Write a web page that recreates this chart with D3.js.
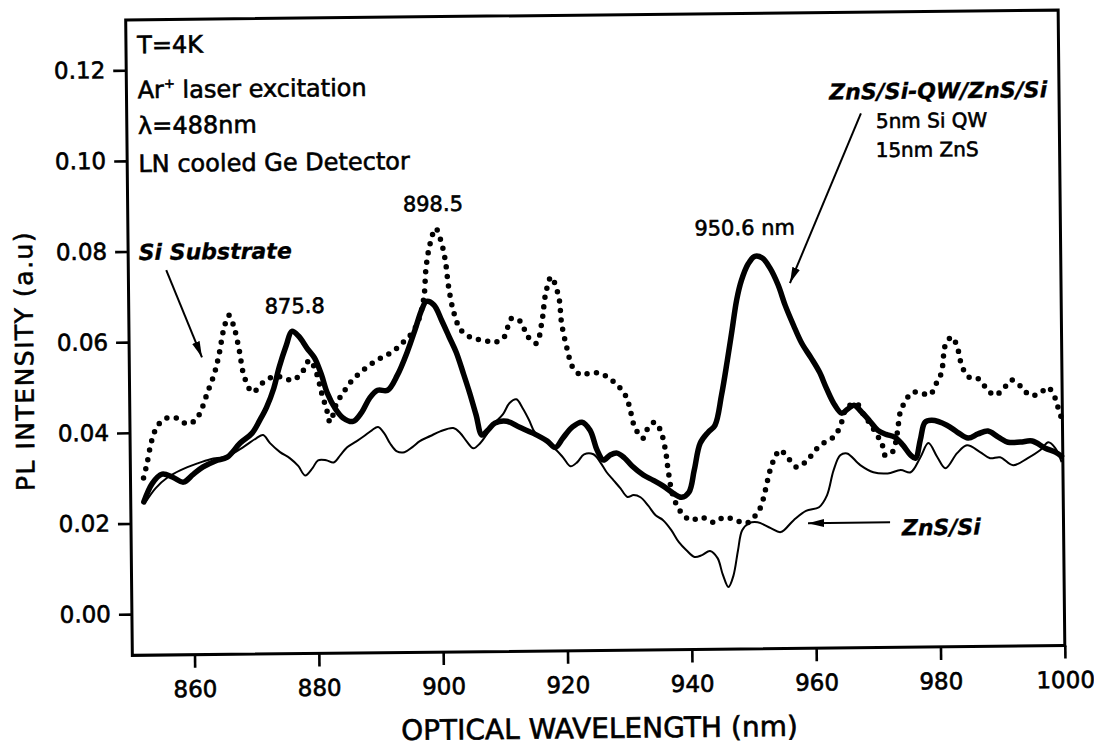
<!DOCTYPE html>
<html>
<head>
<meta charset="utf-8">
<script src="https://d3js.org/d3.v7.min.js"></script>
<style>
  body { margin: 0; background: #fff; }
  svg text { font-family: "DejaVu Sans", sans-serif; fill: #000; stroke: #000; stroke-width: 0.6px; }
</style>
</head>
<body>
<div id="chart"></div>
<script>
// wavelength (nm) and PL intensity (a.u)
var qwWl = [852.1,853.5,855.1,856.8,858.5,860.1,861.7,863.7,865.6,867.7,869.6,870.9,872.0,873.2,874.1,875.3,
            876.2,877.3,878.6,879.8,880.9,881.8,883.0,884.3,885.9,887.3,888.6,889.9,891.5,893.1,894.7,896.0,
            897.1,897.9,899.1,900.3,901.5,902.6,903.7,904.7,905.7,906.6,907.6,908.7,910.6,912.7,914.8,917.1,
            918.4,919.6,921.1,922.7,924.0,925.1,926.1,927.2,928.3,929.5,930.7,932.5,934.1,935.7,937.3,938.6,
            939.8,940.7,941.7,943.0,944.1,945.2,946.2,947.0,947.8,948.6,949.7,950.8,952.0,953.2,954.5,955.6,
            956.9,958.2,959.7,961.0,962.1,963.4,964.5,965.5,966.5,967.7,969.0,970.3,971.6,973.0,974.3,975.5,
            976.3,977.1,977.9,979.0,981.4,983.1,984.8,986.4,988.0,989.6,991.2,993.2,995.1,997.2,998.8,999.8];
var qwPl = [0.0247,0.0288,0.0308,0.0301,0.0290,0.0307,0.0323,0.0336,0.0344,0.0375,0.0396,0.0425,0.0453,0.0495,0.0541,0.0590,
            0.0620,0.0609,0.0583,0.0561,0.0523,0.0483,0.0450,0.0428,0.0420,0.0440,0.0471,0.0488,0.0488,0.0521,0.0571,0.0620,
            0.0664,0.0683,0.0675,0.0641,0.0604,0.0570,0.0524,0.0480,0.0431,0.0387,0.0398,0.0413,0.0417,0.0403,0.0390,0.0372,
            0.0358,0.0378,0.0402,0.0413,0.0395,0.0351,0.0329,0.0340,0.0344,0.0333,0.0315,0.0295,0.0283,0.0270,0.0254,0.0245,
            0.0256,0.0305,0.0364,0.0388,0.0403,0.0469,0.0546,0.0612,0.0679,0.0722,0.0758,0.0775,0.0771,0.0749,0.0711,0.0666,
            0.0622,0.0582,0.0549,0.0518,0.0482,0.0445,0.0427,0.0436,0.0444,0.0429,0.0409,0.0388,0.0379,0.0373,0.0355,0.0333,
            0.0326,0.0366,0.0405,0.0409,0.0398,0.0382,0.0369,0.0378,0.0384,0.0371,0.0359,0.0359,0.0361,0.0345,0.0336,0.0327];

var znsWl = [852.4,854.0,856.0,858.0,860.8,862.9,865.6,868.2,870.3,871.4,872.5,874.1,875.7,877.0,878.1,879.3,
             880.2,881.5,882.7,883.8,884.9,886.4,887.6,888.9,889.9,890.9,891.8,892.9,894.1,895.4,896.6,898.3,
             899.9,902.0,903.1,904.1,905.2,906.3,907.4,908.5,910.0,911.1,912.2,913.2,914.2,915.1,916.8,918.4,
             919.6,920.8,921.9,923.0,924.5,925.6,926.6,927.7,928.8,929.9,930.9,932.0,933.2,934.4,935.6,936.9,
             938.1,939.3,940.6,941.8,943.1,944.3,945.1,946.0,946.8,947.6,948.3,949.4,950.8,952.9,954.5,956.6,
             958.6,960.7,962.0,963.1,964.2,965.3,967.4,969.5,971.8,973.9,975.5,977.1,978.4,979.8,981.1,983.0,
             984.6,986.7,988.3,989.9,992.0,994.3,996.4,997.7,998.8,999.8];
var znsPl = [0.0247,0.0277,0.0301,0.0316,0.0331,0.0340,0.0346,0.0366,0.0385,0.0392,0.0374,0.0354,0.0340,0.0323,0.0302,0.0318,
             0.0335,0.0335,0.0330,0.0346,0.0363,0.0376,0.0387,0.0400,0.0407,0.0393,0.0371,0.0353,0.0351,0.0362,0.0375,0.0386,
             0.0396,0.0403,0.0392,0.0374,0.0358,0.0369,0.0389,0.0411,0.0432,0.0457,0.0465,0.0445,0.0419,0.0392,0.0372,0.0354,
             0.0336,0.0316,0.0325,0.0342,0.0342,0.0324,0.0302,0.0284,0.0266,0.0247,0.0251,0.0246,0.0228,0.0206,0.0195,0.0173,
             0.0146,0.0128,0.0113,0.0117,0.0126,0.0110,0.0074,0.0046,0.0070,0.0127,0.0171,0.0186,0.0188,0.0175,0.0166,0.0192,
             0.0212,0.0220,0.0246,0.0301,0.0334,0.0338,0.0312,0.0296,0.0293,0.0300,0.0295,0.0328,0.0359,0.0328,0.0303,0.0336,
             0.0353,0.0338,0.0324,0.0326,0.0308,0.0323,0.0341,0.0358,0.0345,0.0314];

var subWl = [852.1,852.7,853.5,854.5,856.0,857.6,859.2,860.5,861.3,862.5,863.7,864.5,865.3,866.1,866.9,867.7,
             868.5,869.8,871.4,873.0,874.6,876.2,877.8,879.0,880.1,880.9,881.7,882.2,883.3,884.3,885.4,887.0,
             889.1,890.7,892.3,893.9,895.5,896.6,897.5,897.9,898.6,899.5,900.3,901.0,901.5,902.3,903.4,905.2,
             907.1,908.7,910.3,911.6,913.1,914.0,915.5,916.4,917.1,918.0,919.2,919.6,920.5,921.3,922.7,924.0,
             925.6,927.2,928.8,929.9,930.4,931.2,932.5,933.3,934.4,935.3,936.1,936.5,937.2,938.5,940.1,941.7,
             943.8,945.4,947.0,948.9,950.2,951.3,952.1,952.9,953.7,954.5,955.8,957.2,958.9,960.2,961.5,963.1,
             964.2,965.3,966.9,967.9,969.0,970.2,971.0,971.4,972.6,973.4,973.9,974.7,975.9,977.4,978.7,979.8,
             980.6,981.4,982.4,983.2,984.0,985.1,986.4,987.8,989.1,990.4,991.9,993.5,994.8,996.4,997.7,998.8,
             999.3,999.8];
var subPl = [0.0300,0.0333,0.0383,0.0416,0.0432,0.0431,0.0418,0.0426,0.0442,0.0486,0.0530,0.0574,0.0629,0.0657,0.0631,0.0580,
             0.0520,0.0487,0.0507,0.0520,0.0519,0.0512,0.0530,0.0556,0.0527,0.0483,0.0445,0.0419,0.0461,0.0482,0.0504,0.0526,
             0.0548,0.0561,0.0572,0.0591,0.0613,0.0642,0.0692,0.0758,0.0811,0.0844,0.0818,0.0773,0.0714,0.0657,0.0619,0.0601,
             0.0596,0.0591,0.0602,0.0644,0.0635,0.0606,0.0588,0.0632,0.0698,0.0734,0.0689,0.0632,0.0572,0.0535,0.0517,0.0521,
             0.0521,0.0509,0.0489,0.0467,0.0445,0.0401,0.0376,0.0398,0.0411,0.0394,0.0349,0.0305,0.0250,0.0212,0.0194,0.0201,
             0.0189,0.0200,0.0195,0.0186,0.0199,0.0221,0.0259,0.0303,0.0331,0.0347,0.0329,0.0309,0.0324,0.0346,0.0361,0.0374,
             0.0396,0.0438,0.0448,0.0426,0.0404,0.0377,0.0355,0.0333,0.0340,0.0381,0.0426,0.0450,0.0471,0.0469,0.0465,0.0491,
             0.0513,0.0579,0.0592,0.0570,0.0525,0.0503,0.0501,0.0479,0.0463,0.0474,0.0496,0.0480,0.0462,0.0466,0.0479,0.0457,
             0.0435,0.0413];

var xTicks = [860, 880, 900, 920, 940, 960, 980, 1000];
var yTicks = [0.00, 0.02, 0.04, 0.06, 0.08, 0.10, 0.12];

var width = 1094, height = 747;
var plotL = 129, plotR = 1061.5, plotT = 15, plotB = 650.5;

var svg = d3.select("#chart").append("svg")
    .attr("width", width)
    .attr("height", height);

// the scan is tilted a little, so the whole figure is turned with it
var g = svg.append("g").attr("transform", "rotate(-0.6,595,333)");

var x = d3.scaleLinear().domain([850, 1000]).range([plotL, plotR]);
var y = d3.scaleLinear().domain([-0.0091, 0.1311]).range([plotB, plotT]);

var defs = svg.append("defs");
defs.append("marker")
    .attr("id", "head")
    .attr("viewBox", "0 0 16 8")
    .attr("refX", 16).attr("refY", 4)
    .attr("markerWidth", 16).attr("markerHeight", 8)
    .attr("markerUnits", "userSpaceOnUse")
    .attr("orient", "auto")
  .append("path")
    .attr("d", "M0,0L16,4L0,8Z")
    .attr("fill", "#000");

// axes
var xAxis = g.append("g")
    .attr("transform", "translate(0," + plotB + ")")
    .call(d3.axisBottom(x).tickValues(xTicks).tickSize(13).tickPadding(13).tickFormat(d3.format("d")));
var yAxis = g.append("g")
    .attr("transform", "translate(" + plotL + ",0)")
    .call(d3.axisLeft(y).tickValues(yTicks).tickSize(13).tickPadding(8).tickFormat(d3.format(".2f")));

[xAxis, yAxis].forEach(function(a) {
  a.select(".domain").remove();
  a.selectAll(".tick line").attr("stroke", "#000").attr("stroke-width", 2.6);
  a.selectAll(".tick text")
      .style("font-family", "'DejaVu Sans', sans-serif")
      .style("font-size", "23px")
      .attr("fill", "#000");
});

// frame
g.append("rect")
    .attr("x", plotL).attr("y", plotT)
    .attr("width", plotR - plotL).attr("height", plotB - plotT)
    .attr("fill", "none")
    .attr("stroke", "#000")
    .attr("stroke-width", 3);

// curves
var line = d3.line()
    .x(function(d) { return x(d[0]); })
    .y(function(d) { return y(d[1]); })
    .curve(d3.curveCatmullRom.alpha(0.5));

function pairs(w, v) { return w.map(function(d, i) { return [d, v[i]]; }); }

g.append("path")
    .attr("d", line(pairs(znsWl, znsPl)))
    .attr("fill", "none")
    .attr("stroke", "#000")
    .attr("stroke-width", 2)
    .attr("stroke-linejoin", "round");

g.append("path")
    .attr("d", line(pairs(subWl, subPl)))
    .attr("fill", "none")
    .attr("stroke", "#000")
    .attr("stroke-width", 5.5)
    .attr("stroke-linecap", "round")
    .attr("stroke-dasharray", "0,9.5");

g.append("path")
    .attr("d", line(pairs(qwWl, qwPl)))
    .attr("fill", "none")
    .attr("stroke", "#000")
    .attr("stroke-width", 5.5)
    .attr("stroke-linejoin", "round")
    .attr("stroke-linecap", "round");

// axis titles
g.append("text")
    .attr("x", (plotL + plotR) / 2)
    .attr("y", plotB + 87.5)
    .attr("text-anchor", "middle")
    .style("font-size", "28px")
    .text("OPTICAL WAVELENGTH (nm)");

g.append("text")
    .attr("transform", "translate(33,355) rotate(-90)")
    .attr("text-anchor", "middle")
    .style("font-size", "25px")
    .style("letter-spacing", "1.5px")
    .text("PL INTENSITY (a.u)");

function note(wl, val, txt, size, anchor) {
  return g.append("text")
      .attr("x", x(wl)).attr("y", y(val))
      .attr("text-anchor", anchor || "start")
      .style("font-size", size + "px")
      .text(txt);
}

// conditions in the top left corner
note(851.8, 0.1237, "T=4K", 24);
var ar = g.append("text")
    .attr("x", x(851.8)).attr("y", y(0.1138))
    .style("font-size", "24px");
ar.append("tspan").text("Ar");
ar.append("tspan").attr("dy", -10).style("font-size", "13px").text("+");
ar.append("tspan").attr("dy", 10).text(" laser excitation");
note(851.8, 0.1059, "\u03bb=488nm", 24);
note(851.8, 0.0975, "LN cooled Ge Detector", 24);

// peak labels
note(876.7, 0.0660, "875.8", 21, "middle");
note(899.1, 0.0882, "898.5", 21, "middle");
note(949.2, 0.0822, "950.6 nm", 21, "middle");

// curve labels
note(851.7, 0.0781, "Si Substrate", 22)
    .style("font-weight", "bold").style("font-style", "italic").style("stroke-width", "0.3px");
note(998.1, 0.1119, "ZnS/Si-QW/ZnS/Si", 22, "end")
    .style("font-weight", "bold").style("font-style", "italic").style("stroke-width", "0.3px");
note(970.5, 0.1055, "5nm Si QW", 20);
note(970.4, 0.0991, "15nm ZnS", 20);
note(974.0, 0.0156, "ZnS/Si", 22)
    .style("font-weight", "bold").style("font-style", "italic").style("stroke-width", "0.3px");

function arrow(w1, v1, w2, v2) {
  g.append("line")
      .attr("x1", x(w1)).attr("y1", y(v1))
      .attr("x2", x(w2)).attr("y2", y(v2))
      .attr("stroke", "#000")
      .attr("stroke-width", 2)
      .attr("marker-end", "url(#head)");
}
arrow(856.1, 0.0758, 861.7, 0.0565);
arrow(968.1, 0.1088, 956.4, 0.0715);
arrow(972.1, 0.0185, 958.9, 0.0185);
</script>
</body>
</html>
